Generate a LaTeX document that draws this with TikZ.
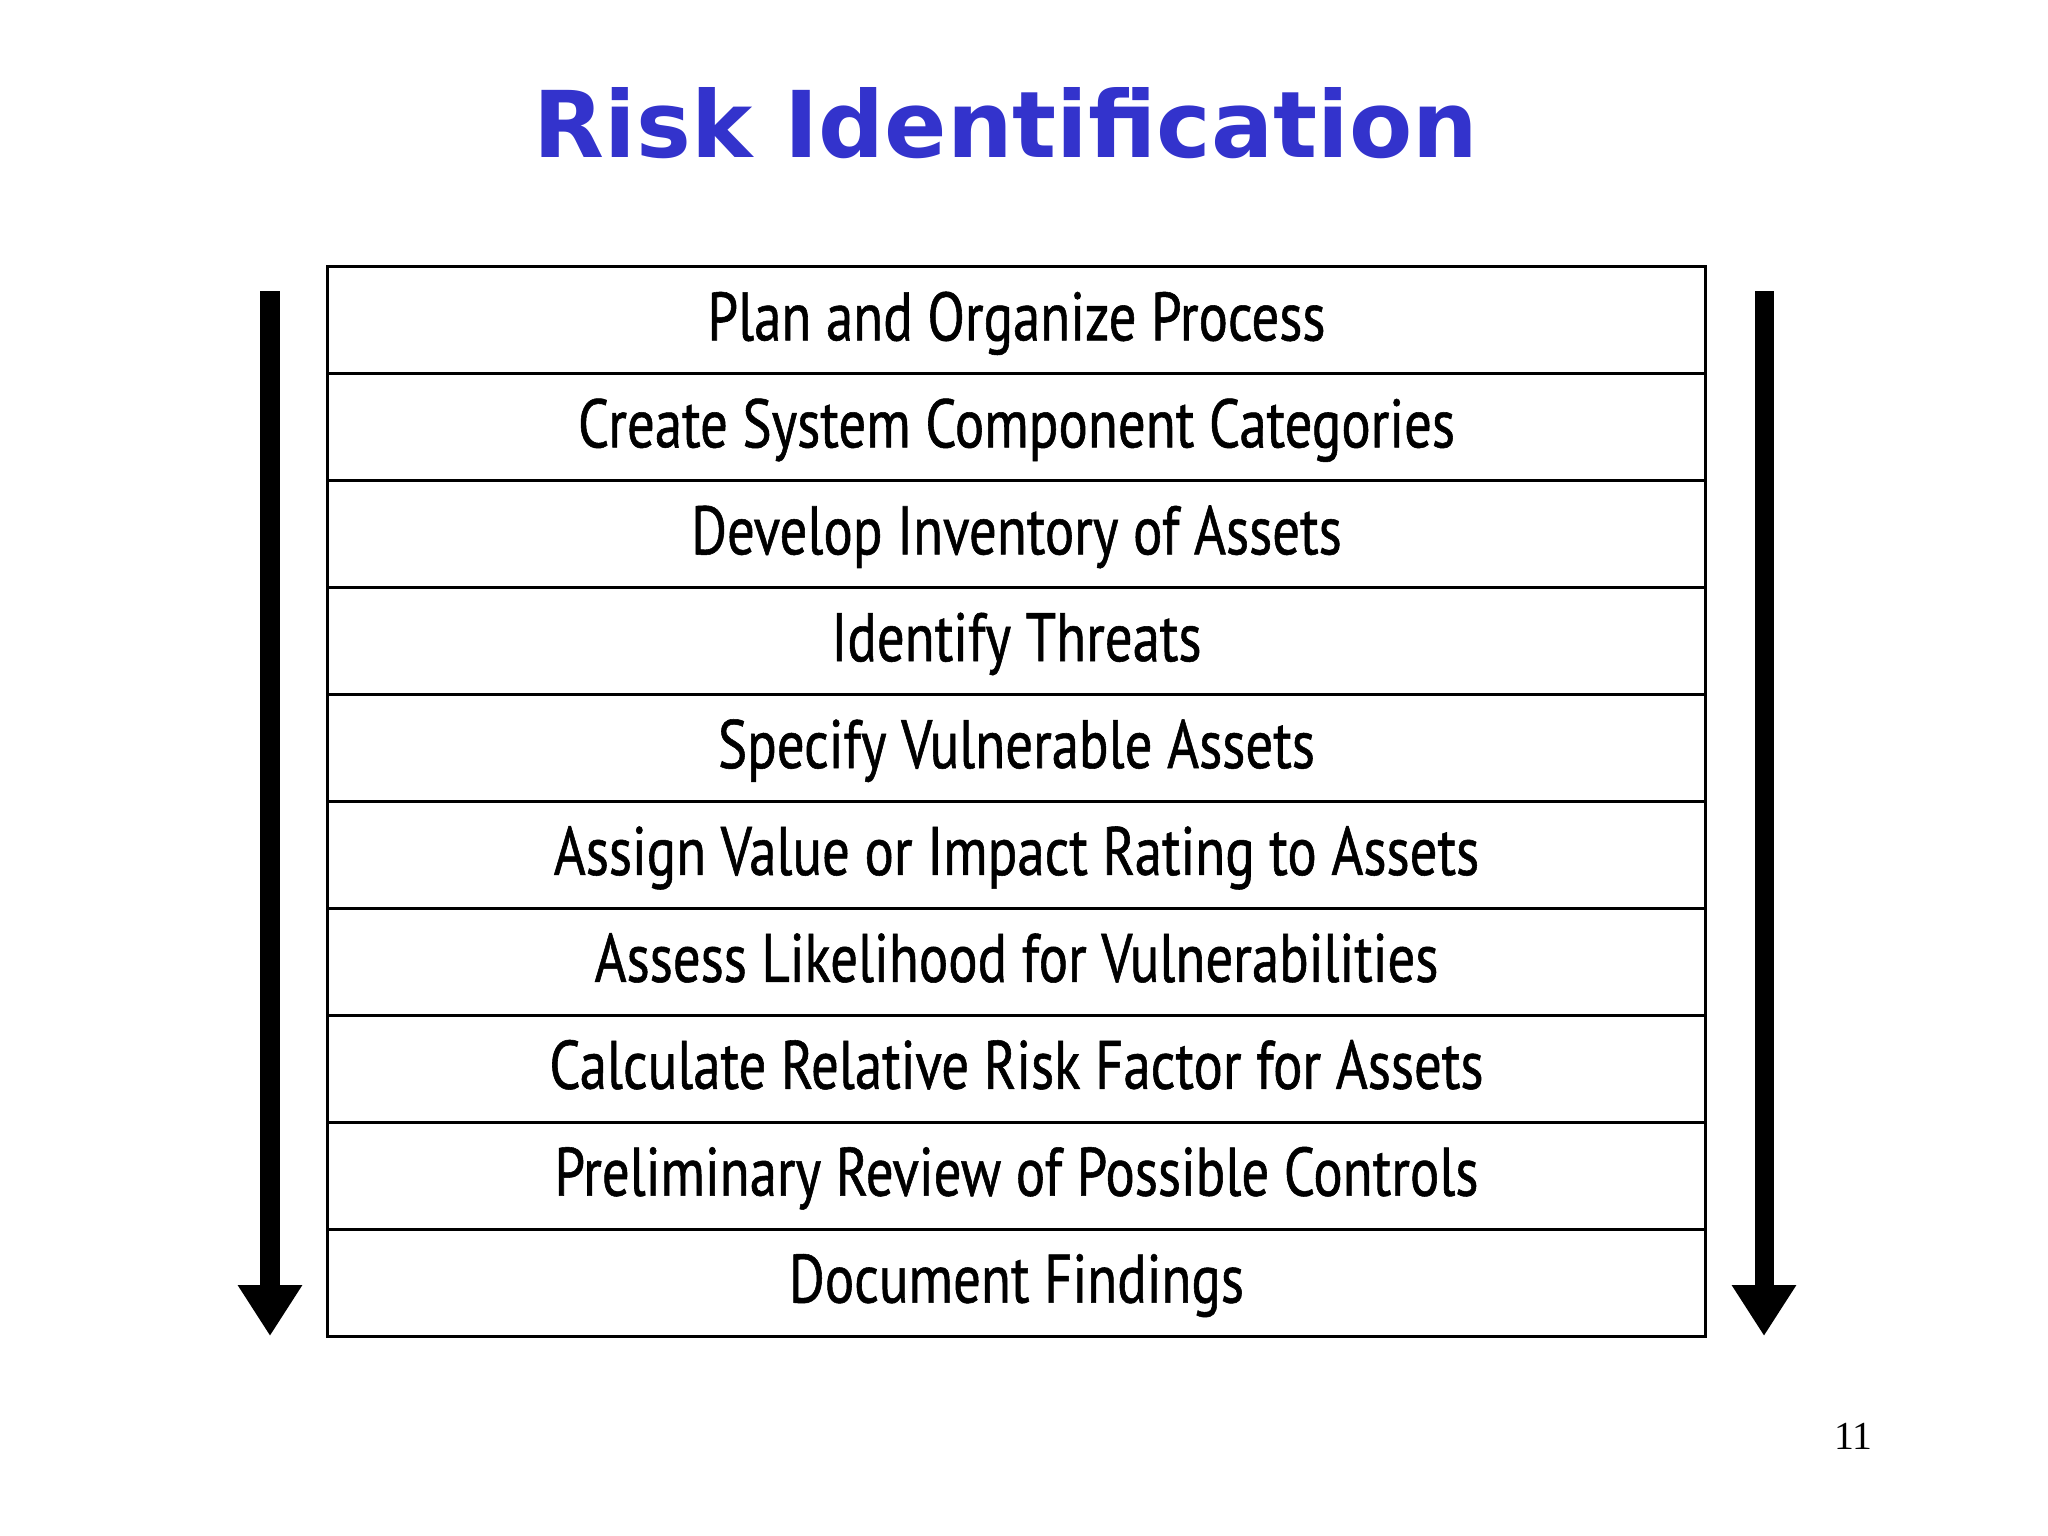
\documentclass[tikz,border=0pt]{standalone}
\usepackage{fontspec}
\setmainfont{Liberation Serif}
\newfontfamily\titlefont{DejaVu Sans}
\newfontfamily\stepfont[FakeStretch=0.8,FakeBold=0.8]{PT Sans}
\usetikzlibrary{arrows.meta}
\definecolor{titleblue}{RGB}{51,51,204}

\tikzset{
	stepbox/.style={draw,line width=0.03cm,outer sep=0pt,inner sep=0pt,
		minimum width=13.77cm,minimum height=1.069cm,
		text height=0.52cm,text depth=0.12cm,
		font=\stepfont\fontsize{19.5}{20}\selectfont},
	flow/.style={line width=0.19cm,-{Triangle[width=0.61cm,length=0.51cm]}}
}

\begin{document}
\begin{tikzpicture}[x=0.01cm,y=-0.01cm]
	\useasboundingbox (0,0) rectangle (2048,1536);
	\node[anchor=base,text=titleblue,font=\titlefont\bfseries\fontsize{26.2}{30}\selectfont] (title) at (1006,157) {Risk Identification};
	\foreach \t [count=\i] in {Plan and Organize Process,
		Create System Component Categories,
		Develop Inventory of Assets,
		Identify Threats,
		Specify Vulnerable Assets,
		Assign Value or Impact Rating to Assets,
		Assess Likelihood for Vulnerabilities,
		Calculate Relative Risk Factor for Assets,
		Preliminary Review of Possible Controls,
		Document Findings}{
		\node[stepbox] (step\i) at (1016.5,{267+106.9*(\i-0.5)}) {\t};
	}
	\coordinate (ltop) at (270,291);
	\coordinate (rtop) at (1764,291);
	\draw[flow] (ltop) -- (ltop |- step10.south);
	\draw[flow] (rtop) -- (rtop |- step10.south);
	\node[anchor=base east,inner sep=0pt,font=\fontsize{11.3}{13}\selectfont] (page) at (1873,1449) {11};
\end{tikzpicture}
\end{document}
